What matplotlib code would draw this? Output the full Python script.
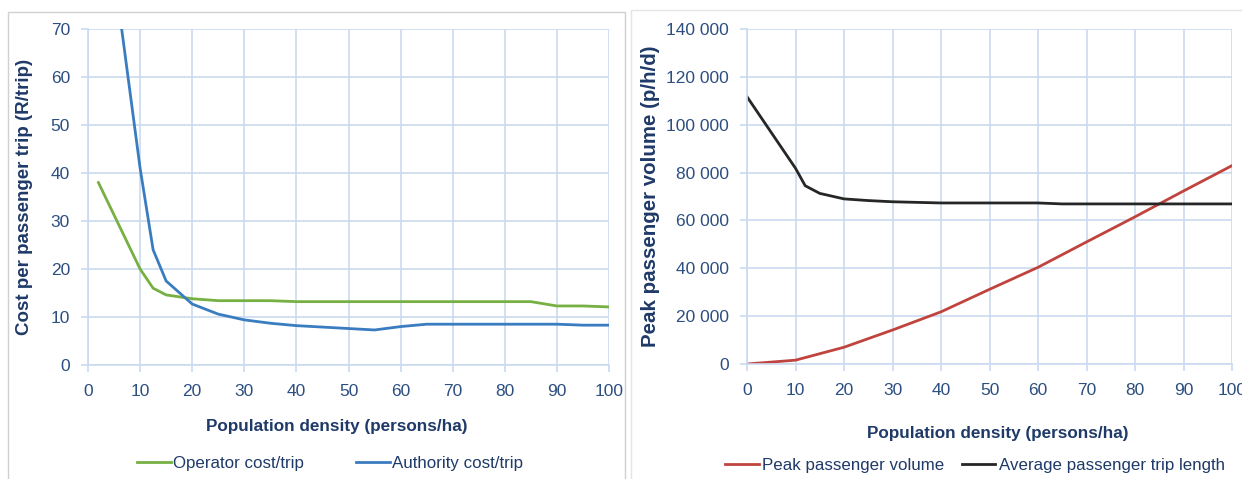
import matplotlib
matplotlib.use("Agg")
import matplotlib.pyplot as plt
import matplotlib.ticker as mticker
from matplotlib.patches import Rectangle

# Left chart: cost per passenger trip
operator_x = [2, 10, 12.5, 15, 20, 25, 30, 35, 40, 45, 50, 55, 60, 65, 70, 75, 80, 85, 90, 95, 100]
operator_cost = [38, 20, 16, 14.6, 13.8, 13.4, 13.4, 13.4, 13.2, 13.2, 13.2, 13.2, 13.2, 13.2,
                 13.2, 13.2, 13.2, 13.2, 12.3, 12.3, 12.1]
authority_x = [5, 10, 12.5, 15, 20, 25, 30, 35, 40, 45, 50, 55, 60, 65, 70, 75, 80, 85, 90, 95, 100]
authority_cost = [82, 41, 24, 17.5, 12.7, 10.6, 9.4, 8.7, 8.2, 7.9, 7.6, 7.3, 8.0, 8.5, 8.5,
                  8.5, 8.5, 8.5, 8.5, 8.3, 8.3]

# Right chart: peak volume and trip length
density_x = [0, 10, 20, 30, 40, 50, 60, 70, 80, 90, 100]
peak_volume = [0, 1600, 7000, 14200, 21800, 31200, 40400, 51000, 61500, 72300, 82900]
trip_x = [0, 10, 12, 15, 20, 25, 30, 40, 50, 60, 65, 70, 80, 90, 100]
trip_length = [111700, 81800, 74500, 71300, 69000, 68300, 67800, 67300, 67300, 67300,
               66900, 66900, 66900, 66900, 66900]

TICK_C = "#2C4E80"
LABEL_C = "#1F3A68"
GRID_C = "#C9DAF0"

plt.rcParams["font.family"] = ["Liberation Sans", "DejaVu Sans"]

fig = plt.figure(figsize=(12.42, 4.79), dpi=100)

# panel frames
fig.patches.append(Rectangle((8 / 1242, -0.01), (625 - 8) / 1242, 1 - 12 / 479 + 0.01,
                             transform=fig.transFigure, fill=False, edgecolor="#D0D0D0", lw=1))
fig.patches.append(Rectangle((631 / 1242, -0.01), 1, 1 - 10 / 479 + 0.01,
                             transform=fig.transFigure, fill=False, edgecolor="#E4E4E4", lw=1))

ax1 = fig.add_axes([88 / 1242, 1 - 365 / 479, (609 - 88) / 1242, (365 - 29) / 479])
ax2 = fig.add_axes([747 / 1242, 1 - 364 / 479, (1232 - 747) / 1242, (364 - 29) / 479])


def style(ax):
    ax.grid(True, color=GRID_C, linewidth=1.2)
    ax.set_axisbelow(True)
    for side in ["top", "right"]:
        ax.spines[side].set_visible(False)
    for side in ["left", "bottom"]:
        ax.spines[side].set_color(GRID_C)
        ax.spines[side].set_linewidth(1.2)
    ax.tick_params(axis="both", colors=GRID_C, length=5, width=1.2, labelsize=12.5,
                   labelcolor=TICK_C, pad=8)
    ax.tick_params(axis="x", pad=9)
    ax.set_xlim(0, 100)
    ax.xaxis.set_major_locator(mticker.MultipleLocator(10))


style(ax1)
ax1.plot(operator_x, operator_cost, color="#76B043", lw=2, label="Operator cost/trip")
ax1.plot(authority_x, authority_cost, color="#3A7CC0", lw=2, label="Authority cost/trip")
ax1.set_ylim(0, 70)
ax1.yaxis.set_major_locator(mticker.MultipleLocator(10))
ax1.set_xlabel("Population density (persons/ha)", fontsize=12.3, fontweight="bold", color=LABEL_C)
ax1.set_ylabel("Cost per passenger trip (R/trip)", fontsize=13.5, fontweight="bold", color=LABEL_C)
ax1.xaxis.set_label_coords(0.478, -0.16)
ax1.yaxis.set_label_coords(-0.106, 0.5)
leg1 = ax1.legend(loc="center", bbox_to_anchor=(0.465, -0.292), ncol=2, frameon=False,
                  fontsize=12.2, handlelength=2.0, handletextpad=0.1, columnspacing=3.1)
for t in leg1.get_texts():
    t.set_color(LABEL_C)

style(ax2)
ax2.plot(density_x, peak_volume, color="#C0433E", lw=2, label="Peak passenger volume")
ax2.plot(trip_x, trip_length, color="#262626", lw=2, label="Average passenger trip length")
ax2.set_ylim(0, 140000)
ax2.yaxis.set_major_locator(mticker.MultipleLocator(20000))
ax2.yaxis.set_major_formatter(mticker.FuncFormatter(lambda v, p: f"{int(v):,}".replace(",", " ")))
ax2.set_xlabel("Population density (persons/ha)", fontsize=12.3, fontweight="bold", color=LABEL_C)
ax2.set_ylabel("Peak passenger volume (p/h/d)", fontsize=14.8, fontweight="bold", color=LABEL_C)
ax2.xaxis.set_label_coords(0.517, -0.184)
ax2.yaxis.set_label_coords(-0.179, 0.5)
leg2 = ax2.legend(loc="center", bbox_to_anchor=(0.47, -0.304), ncol=2, frameon=False,
                  fontsize=12.2, handlelength=2.0, handletextpad=0.2, columnspacing=1.0)
for t in leg2.get_texts():
    t.set_color(LABEL_C)

fig.savefig("out.png", dpi=100)
